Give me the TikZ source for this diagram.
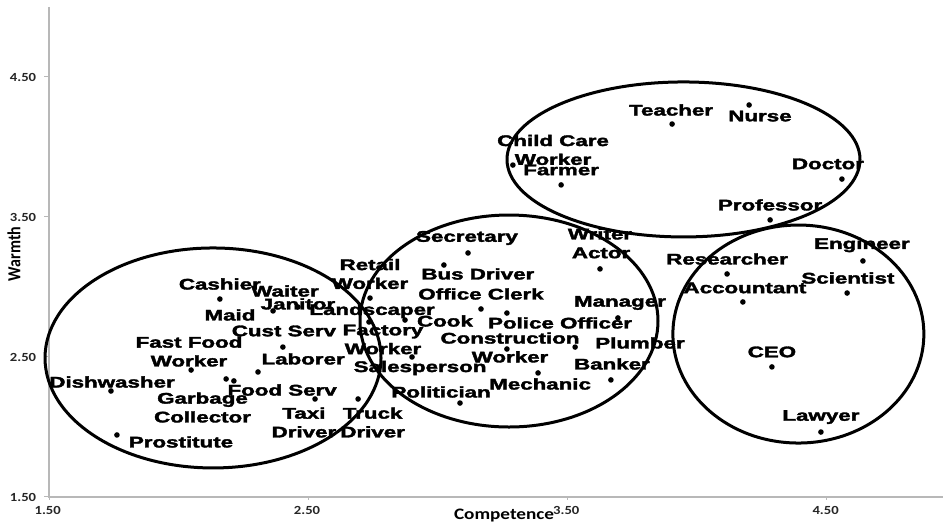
\documentclass[tikz,border=0pt]{standalone}
\usepackage{fontspec}
\setmainfont{Liberation Sans}[BoldFeatures={FakeBold=2}]
\newfontfamily\axisfont{Carlito}
\usetikzlibrary{positioning}
\colorlet{axisgray}{black!28}
\colorlet{ticktext}{black!85}

\begin{document}
\begin{tikzpicture}[x=129.65pt,y=70pt,
    job/.style={font=\fontsize{7.7}{9.4}\selectfont\bfseries,align=center,inner sep=0pt,xscale=1.45},
    dot/.style={circle,fill=black,inner sep=0pt,minimum size=2.8pt},
    cluster/.style={draw=black,line width=1.5pt},
    ticklbl/.style={font=\axisfont\bfseries\fontsize{6.2}{7}\selectfont,text=ticktext,inner sep=0pt,xscale=1.18},
    axislbl/.style={font=\axisfont\bfseries\fontsize{8}{9}\selectfont,inner sep=0pt}]
    \useasboundingbox (1.3110,1.3) rectangle (4.9478,5.05);
    \coordinate (origin) at (1.5,1.5);
    \coordinate (ytop) at (1.5,5.0);
    \coordinate (xend) at (4.9478,1.5);
    \draw[axisgray,line width=0.75pt] (ytop) -- (origin) -- (xend);
    \foreach \v [count=\i] in {1.50,2.50,3.50,4.50}
    {\draw[axisgray,line width=0.5pt] (1.5,\v) -- ++(-2.5pt,0);
    \draw[axisgray,line width=0.5pt] (\v,1.5) -- ++(0,-1.5pt);
    \node[ticklbl] (ytick\i) at (1.4,\v) {\v};
    \node[ticklbl] (xtick\i) at (\v-0.005,1.407) {\v};}
    \node[axislbl,xscale=1.2] (xlabel) at (3.255,1.371) {Competence};
    \node[axislbl,rotate=90,yscale=1.15] (ylabel) at (1.365,3.236) {Warmth};
    % clusters
    \draw[cluster] (2.1325,2.493) ellipse [x radius=84pt,y radius=55pt];
    \draw[cluster] (3.274,2.757) ellipse [x radius=74.5pt,y radius=53pt];
    \draw[cluster] (3.947,3.911) ellipse [x radius=88.25pt,y radius=38.75pt];
    \draw[cluster] (4.390,2.664) ellipse [x radius=62.75pt,y radius=54.5pt];
    % occupations
    \foreach \x/\y [count=\i] in {2.159/2.914,2.364/2.829,2.460/2.857,2.402/2.571,
    2.048/2.407,2.306/2.393,2.183/2.343,2.213/2.329,2.526/2.200,2.692/2.200,
    2.738/2.921,2.734/2.750,2.873/2.764,2.900/2.500,3.116/3.243,3.023/3.157,
    3.625/3.129,3.166/2.843,3.266/2.814,3.694/2.779,3.266/2.557,3.529/2.571,
    3.386/2.386,3.667/2.336,3.085/2.171,3.903/4.164,3.289/3.871,3.475/3.729,
    4.200/4.300,4.558/3.771,4.281/3.479,4.639/3.186,4.115/3.093,4.176/2.893,
    4.578/2.957,4.288/2.429,4.477/1.964,1.739/2.257,1.762/1.943}
    \node[dot] (p\i) at (\x,\y) {};
    \foreach \x/\y/\t [count=\i] in {2.159/3.021/Cashier,2.410/2.971/Waiter,
    2.460/2.879/Janitor,2.198/2.800/Maid,2.406/2.686/Cust Serv,
    2.040/2.539/{Fast Food\\Worker},2.480/2.486/Laborer,1.743/2.321/Dishwasher,
    2.399/2.264/Food Serv,2.092/2.139/{Garbage\\Collector},2.483/2.032/{Taxi\\Driver},
    2.748/2.032/{Truck\\Driver},2.009/1.893/Prostitute,2.738/3.093/{Retail\\Worker},
    2.746/2.829/Landscaper,2.788/2.625/{Factory\\Worker},2.931/2.421/Salesperson,
    3.012/2.250/Politician,3.112/3.350/Secretary,3.154/3.093/Bus Driver,
    3.166/2.950/Office Clerk,3.027/2.757/Cook,3.471/2.743/Police Officer,
    3.278/2.568/{Construction\\Worker},3.394/2.307/Mechanic,3.702/2.886/Manager,
    3.779/2.600/Plumber,3.671/2.450/Banker,3.625/3.379/Writer,3.629/3.243/Actor,
    3.899/4.264/Teacher,4.242/4.221/Nurse,3.444/3.979/{Child Care\\Worker},
    3.475/3.836/Farmer,4.504/3.879/Doctor,4.281/3.586/Professor,4.635/3.300/Engineer,
    4.115/3.200/Researcher,4.581/3.064/Scientist,4.184/2.993/Accountant,
    4.288/2.536/CEO,4.477/2.071/Lawyer}
    \node[job] (l\i) at (\x,\y) {\t};
\end{tikzpicture}
\end{document}
